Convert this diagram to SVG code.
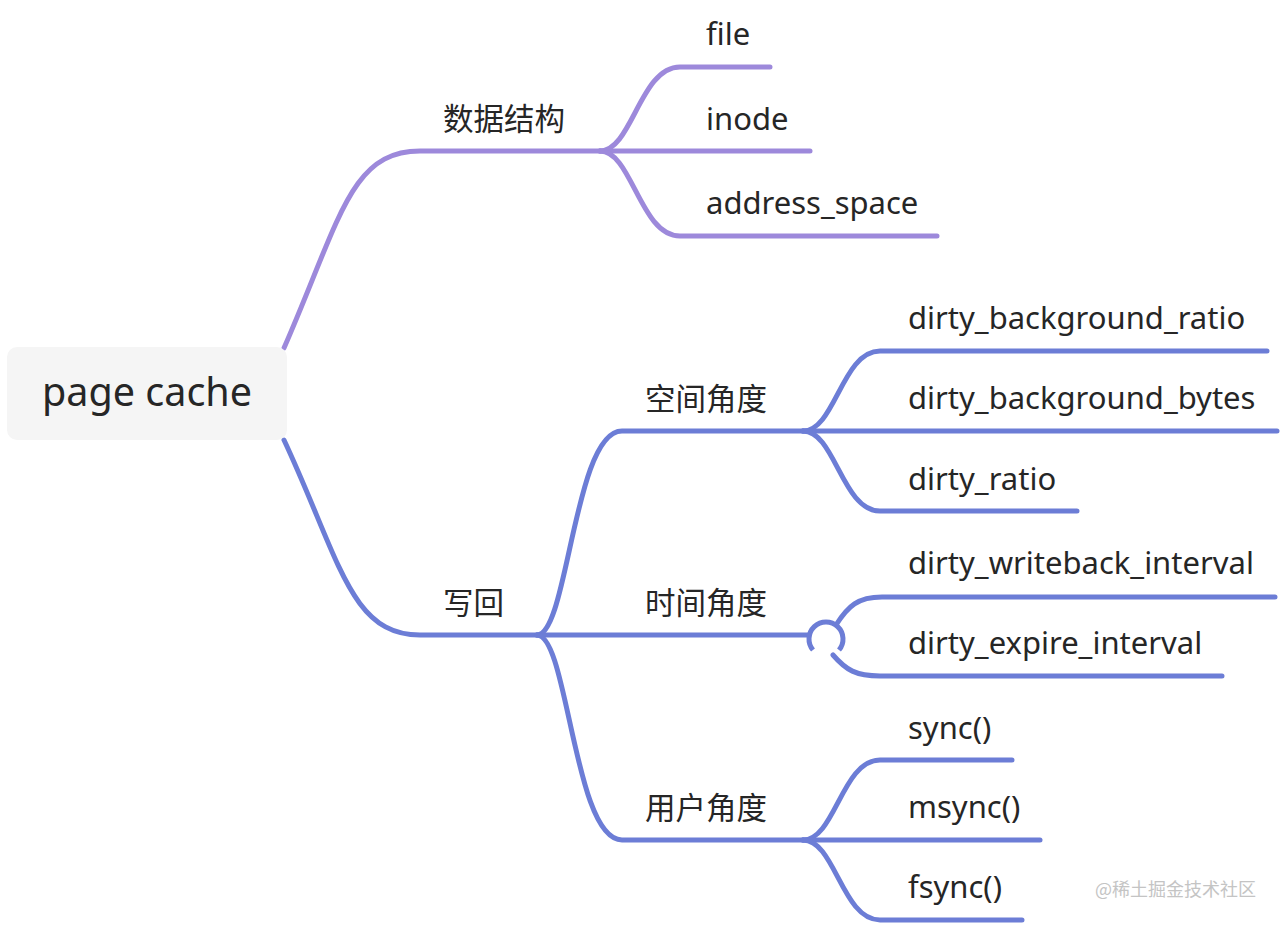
<svg xmlns="http://www.w3.org/2000/svg" width="1281" height="925" viewBox="0 0 1281 925">
<style>
.t{font-family:"Noto Sans","Noto Sans CJK SC",sans-serif;font-size:31px;fill:#262626}
.c{font-family:"Noto Sans CJK SC","Noto Sans",sans-serif;font-size:30.5px;fill:#262626}
.p{fill:none;stroke:#9d89db;stroke-width:5;stroke-linecap:round;stroke-linejoin:round}
.b{fill:none;stroke:#6c7dd6;stroke-width:5;stroke-linecap:round;stroke-linejoin:round}
</style>
<rect width="1281" height="925" fill="#ffffff"/>
<g id="connectors">
<path class="p" d="M284,348 C 340,220 350,151 420,151 L 600,151"/>
<path class="p" d="M600,151 C 632,151 640,67 680,67 L 770,67"/>
<path class="p" d="M600,151 L 810,151"/>
<path class="p" d="M600,151 C 632,151 640,236 680,236 L 937,236"/>
<path class="b" d="M284,440 C 340,560 350,635 420,635 L 537,635"/>
<path class="b" d="M537,635 C 568,635 574,431 622,431 L 803,431"/>
<path class="b" d="M803,431 C 835,431 842,351 880,351 L 1267,351"/>
<path class="b" d="M803,431 L 1277,431"/>
<path class="b" d="M803,431 C 835,431 842,511 880,511 L 1077,511"/>
<path class="b" d="M537,635 L 809,635"/>
<path class="b" d="M836,625 C 848,606 858,597 882,597 L 1275,597"/>
<path class="b" d="M833,655 C 846,670 856,676 880,676 L 1222,676"/>
<path class="b" d="M537,635 C 568,635 574,840 622,840 L 803,840"/>
<path class="b" d="M803,840 C 835,840 842,760 880,760 L 1012,760"/>
<path class="b" d="M803,840 L 1040,840"/>
<path class="b" d="M803,840 C 835,840 842,920 880,920 L 1022,920"/>
<path d="M813,650 A17,17 0 1 1 839,650" fill="#ffffff" stroke="#6c7dd6" stroke-width="5"/>
</g>
<g id="root">
<rect x="7" y="347" width="280" height="93" rx="10" fill="#f5f5f5"/>
<text x="42" y="406" style="font-family:'Noto Sans','Noto Sans CJK SC',sans-serif;font-size:39.5px;fill:#262626">page cache</text>
</g>
<g id="n-data"><text class="c" x="443" y="130">数据结构</text></g>
<g id="n-file"><text class="t" x="706" y="45">file</text></g>
<g id="n-inode"><text class="t" x="706" y="130">inode</text></g>
<g id="n-as"><text class="t" x="706" y="214">address_space</text></g>
<g id="n-writeback"><text class="c" x="443" y="614">写回</text></g>
<g id="n-space"><text class="c" x="645" y="410">空间角度</text></g>
<g id="n-dbr"><text class="t" x="908" y="329">dirty_background_ratio</text></g>
<g id="n-dbb"><text class="t" x="908" y="409">dirty_background_bytes</text></g>
<g id="n-dr"><text class="t" x="908" y="490">dirty_ratio</text></g>
<g id="n-time"><text class="c" x="645" y="614">时间角度</text></g>
<g id="n-dwi"><text class="t" x="908" y="574">dirty_writeback_interval</text></g>
<g id="n-dei"><text class="t" x="908" y="654">dirty_expire_interval</text></g>
<g id="n-user"><text class="c" x="645" y="819">用户角度</text></g>
<g id="n-sync"><text class="t" x="908" y="739">sync()</text></g>
<g id="n-msync"><text class="t" x="908" y="818">msync()</text></g>
<g id="n-fsync"><text class="t" x="908" y="898">fsync()</text></g>
<text x="1095" y="896" style="font-family:'Noto Sans CJK SC',sans-serif;font-size:18px;fill:#c4c4c4">@稀土掘金技术社区</text>
</svg>
